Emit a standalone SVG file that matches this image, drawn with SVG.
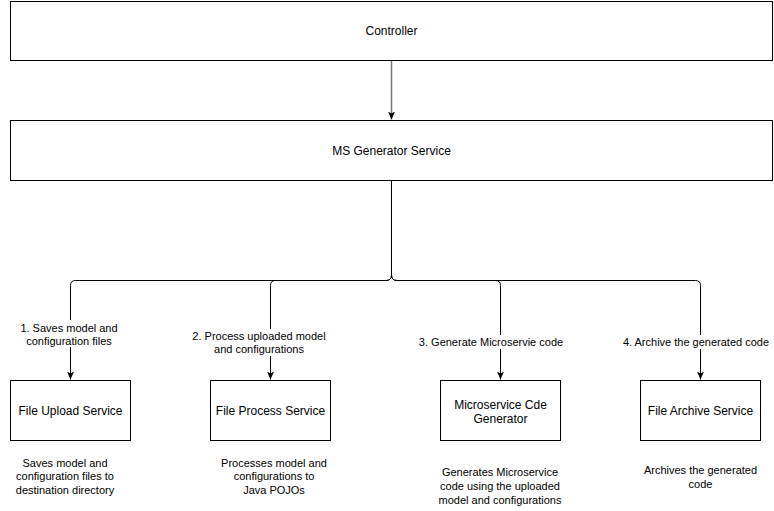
<svg xmlns="http://www.w3.org/2000/svg" width="774" height="511" viewBox="0 0 774 511">
<style>
.box{fill:#fff;stroke:#000;stroke-width:1}
.edge{fill:none;stroke:#000;stroke-width:1}
text{font-family:"Liberation Sans",Arial,Helvetica,sans-serif;fill:#000;text-anchor:middle}
.t12{font-size:12px}
.t11{font-size:11px}
.lbg{fill:#fff;stroke:none}
</style>
<defs>
<marker id="arr" viewBox="0 0 8 8" markerWidth="8" markerHeight="8" refX="8" refY="4" orient="auto" markerUnits="userSpaceOnUse">
<path d="M0,0.5 L8,4 L0,7.5 L2,4 Z" fill="#000"/>
</marker>
</defs>
<g id="connectors">
<path class="edge" d="M391.5,60.5 V119.5" stroke="#777" style="stroke:#777;stroke-width:1.5" marker-end="url(#arr)"/>
<path class="edge" d="M391.5,180.5 V275 Q391.5,280.5 386,280.5 H75.5 Q70.5,280.5 70.5,285.5 V379.5" marker-end="url(#arr)"/>
<path class="edge" d="M391.5,180.5 V275 Q391.5,280.5 386,280.5 H275.5 Q270.5,280.5 270.5,285.5 V379.5" marker-end="url(#arr)"/>
<path class="edge" d="M391.5,180.5 V275 Q391.5,280.5 397,280.5 H495.5 Q500.5,280.5 500.5,285.5 V379.5" marker-end="url(#arr)"/>
<path class="edge" d="M391.5,180.5 V275 Q391.5,280.5 397,280.5 H695.5 Q700.5,280.5 700.5,285.5 V379.5" marker-end="url(#arr)"/>
<g id="edge-labels">
<rect class="lbg" x="19" y="320" width="99" height="27"/>
<text class="t11" x="69" y="331.5">1. Saves model and</text>
<text class="t11" x="69" y="344.5">configuration files</text>
<rect class="lbg" x="193" y="329" width="132" height="27"/>
<text class="t11" x="259" y="340">2. Process uploaded model</text>
<text class="t11" x="259" y="353">and configurations</text>
<rect class="lbg" x="419" y="335" width="144" height="14"/>
<text class="t11" x="491" y="345.5">3. Generate Microservie code</text>
<rect class="lbg" x="622" y="335" width="147" height="14"/>
<text class="t11" x="696" y="345.5">4. Archive the generated code</text>
</g>
</g>
<g id="controller">
<rect class="box" x="10.5" y="1.5" width="762" height="59"/>
<text class="t12" x="391.5" y="35">Controller</text>
</g>
<g id="ms-generator">
<rect class="box" x="10.5" y="120.5" width="762" height="60"/>
<text class="t12" x="391.5" y="155">MS Generator Service</text>
</g>
<g id="file-upload">
<rect class="box" x="10.5" y="380.5" width="120" height="60"/>
<text class="t12" x="70.5" y="414.5">File Upload Service</text>
</g>
<g id="file-process">
<rect class="box" x="210.5" y="380.5" width="120" height="60"/>
<text class="t12" x="270.5" y="414.5">File Process Service</text>
</g>
<g id="code-generator">
<rect class="box" x="440.5" y="380.5" width="120" height="60"/>
<text class="t12" x="500.5" y="409">Microservice Cde</text>
<text class="t12" x="500.5" y="423">Generator</text>
</g>
<g id="file-archive">
<rect class="box" x="640.5" y="380.5" width="120" height="60"/>
<text class="t12" x="700.5" y="414.5">File Archive Service</text>
</g>
<g id="desc-upload">
<text class="t11" x="65" y="466.5">Saves model and</text>
<text class="t11" x="65" y="480">configuration files to</text>
<text class="t11" x="65" y="493.5">destination directory</text>
</g>
<g id="desc-process">
<text class="t11" x="274" y="466.5">Processes model and</text>
<text class="t11" x="274" y="480">configurations to</text>
<text class="t11" x="274" y="493.5">Java POJOs</text>
</g>
<g id="desc-generator">
<text class="t11" x="500" y="475.5">Generates Microservice</text>
<text class="t11" x="500" y="489.5">code using the uploaded</text>
<text class="t11" x="500" y="503.5">model and configurations</text>
</g>
<g id="desc-archive">
<text class="t11" x="700.5" y="474">Archives the generated</text>
<text class="t11" x="700.5" y="487.5">code</text>
</g>
</svg>
